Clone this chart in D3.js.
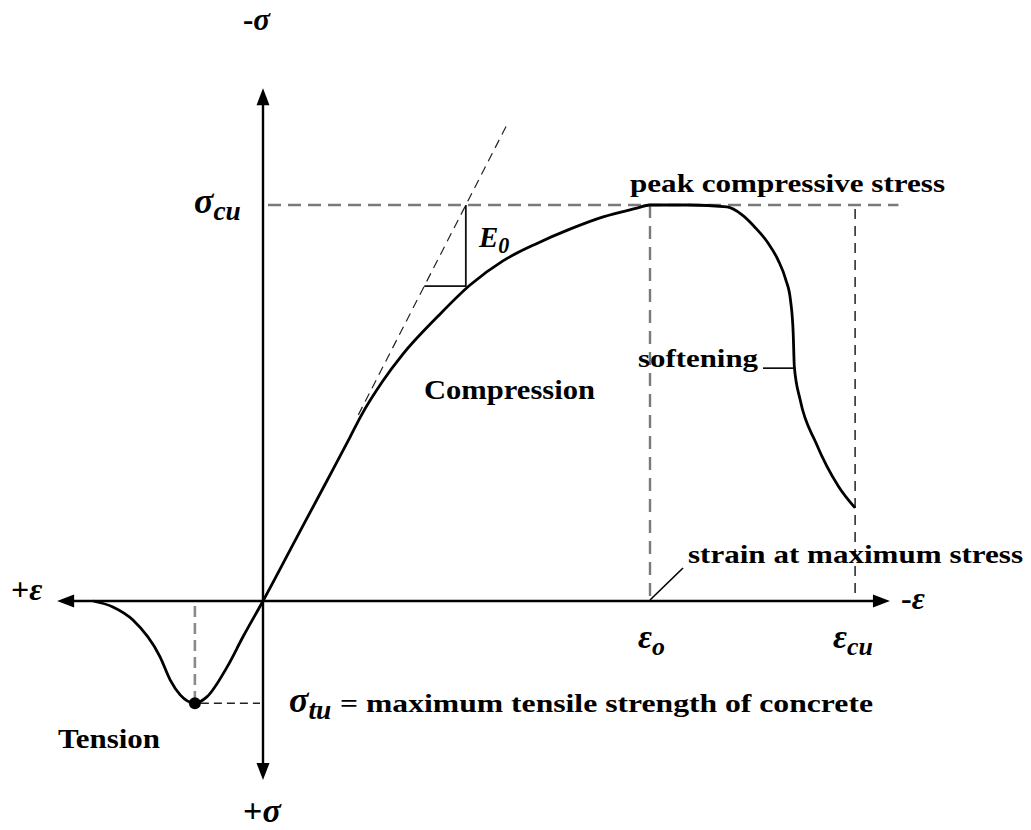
<!DOCTYPE html>
<html>
<head>
<meta charset="utf-8">
<script src="https://cdn.jsdelivr.net/npm/d3@7"></script>
<style>
  body { margin: 0; background: #fff; }
  text { font-family: "Liberation Serif", "Times New Roman", Tinos, serif; font-weight: bold; fill: #000; }
  .greek { font-style: italic; }
</style>
</head>
<body>
<script>
// strain / stress normalised: eps / eps_o , sigma / sigma_cu (compression positive)
var strain = [-0.439, -0.388, -0.336, -0.266, -0.24, -0.214, -0.176, -0.145, -0.093, -0.052, 0,
    0.088, 0.165, 0.225, 0.253, 0.31, 0.362, 0.45, 0.535, 0.62, 0.708, 0.793, 0.879, 0.966, 1.0,
    1.1, 1.199, 1.238, 1.271, 1.305, 1.331, 1.351, 1.363, 1.37, 1.373, 1.388, 1.429, 1.488, 1.53];
var stress = [0, -0.015, -0.048, -0.141, -0.199, -0.237, -0.258, -0.242, -0.167, -0.091, 0,
    0.162, 0.303, 0.414, 0.467, 0.556, 0.624, 0.717, 0.798, 0.859, 0.903, 0.939, 0.97, 0.992, 1.0,
    1.0, 0.995, 0.975, 0.944, 0.904, 0.861, 0.811, 0.76, 0.677, 0.591, 0.508, 0.399, 0.288, 0.235];

var strainTicks = [1, 1.53];          // eps_o, eps_cu
var stressPeak = 1;                   // sigma_cu
var tensionPeak = [-0.176, -0.258];   // (eps, sigma_tu)
var tangentSlope = 1.908;             // E0
var xExtent = [-0.532, 1.62];
var yExtent = [-0.452, 1.295];

var width = 1031, height = 830;
var svg = d3.select("body").append("svg")
    .attr("width", width)
    .attr("height", height);

var x = d3.scaleLinear().domain([0, 1]).range([263, 650]);
var y = d3.scaleLinear().domain([0, 1]).range([601, 205]);

function seg(g, x1, y1, x2, y2, stroke, sw, dash) {
    var l = g.append("line")
        .attr("x1", x1).attr("y1", y1)
        .attr("x2", x2).attr("y2", y2)
        .attr("stroke", stroke)
        .attr("stroke-width", sw);
    if (dash) l.attr("stroke-dasharray", dash);
    return l;
}

// arrow head, tip at (tx, ty), pointing along angle a (radians)
function arrowHead(g, tx, ty, a) {
    var len = 17, half = 6.5;
    var bx = tx - len * Math.cos(a), by = ty - len * Math.sin(a);
    var px = -Math.sin(a) * half, py = Math.cos(a) * half;
    g.append("path")
        .attr("d", "M" + tx + "," + ty + "L" + (bx + px) + "," + (by + py) + "L" + (bx - px) + "," + (by - py) + "Z")
        .attr("fill", "#000");
}

var guides = svg.append("g").attr("class", "guides");
var axes = svg.append("g").attr("class", "axes");
var marks = svg.append("g").attr("class", "marks");
var labels = svg.append("g").attr("class", "labels");

// dashed guides
seg(guides, x(0) + 5, y(stressPeak), x(1.642), y(stressPeak), "#7a7a7a", 2.5, "13,7");
seg(guides, x(strainTicks[0]), y(stressPeak), x(strainTicks[0]), y(0), "#7a7a7a", 2.4, "13,8");
seg(guides, x(strainTicks[1]), y(0.99), x(strainTicks[1]), y(0), "#222", 1.5, "10,7");
seg(guides, x(tensionPeak[0]), y(0) + 5, x(tensionPeak[0]), y(tensionPeak[1]), "#8a8a8a", 2.6, "11,6");
seg(guides, x(tensionPeak[0]) + 6, y(tensionPeak[1]), x(0) - 3, y(tensionPeak[1]), "#222", 1.5, "8,5");

// tangent E0
var tanLo = 0.47, tanHi = 1.202;
seg(guides, x(tanLo / tangentSlope), y(tanLo), x(tanHi / tangentSlope), y(tanHi), "#222", 1.2, "9,6");
var triLo = 0.795;
marks.append("path")
    .attr("d", "M" + x(triLo / tangentSlope) + "," + y(triLo) +
        "H" + x(stressPeak / tangentSlope) + "V" + y(stressPeak))
    .attr("fill", "none")
    .attr("stroke", "#111")
    .attr("stroke-width", 1.8);

// axes
seg(axes, x(xExtent[0]) + 8, y(0), x(xExtent[1]) - 8, y(0), "#000", 2.6);
seg(axes, x(0), y(yExtent[1]) + 8, x(0), y(yExtent[0]) - 8, "#000", 2.4);
arrowHead(axes, x(xExtent[0]), y(0), Math.PI);
arrowHead(axes, x(xExtent[1]), y(0), 0);
arrowHead(axes, x(0), y(yExtent[1]), -Math.PI / 2);
arrowHead(axes, x(0), y(yExtent[0]), Math.PI / 2);

// stress-strain curve
var pts = strain.map(function (d, i) { return [d, stress[i]]; });
marks.append("path")
    .datum(pts)
    .attr("d", d3.line()
        .x(function (d) { return x(d[0]); })
        .y(function (d) { return y(d[1]); })
        .curve(d3.curveMonotoneX))
    .attr("fill", "none")
    .attr("stroke", "#000")
    .attr("stroke-width", 2.8)
    .attr("stroke-linejoin", "round");

marks.append("circle")
    .attr("cx", x(tensionPeak[0]))
    .attr("cy", y(tensionPeak[1]))
    .attr("r", 6)
    .attr("fill", "#000");

// leaders
seg(marks, x(1.292), y(0.588), x(1.37), y(0.588), "#000", 1.6);
seg(marks, x(strainTicks[0]), y(0) - 1, x(strainTicks[0]) + 33, y(0) - 33, "#000", 1.6);

// text helpers
function label(px, py, str, size, len) {
    var t = labels.append("text")
        .attr("x", px).attr("y", py)
        .style("font-size", size + "px")
        .text(str);
    if (len) t.attr("textLength", len).attr("lengthAdjust", "spacingAndGlyphs");
    return t;
}
function greek(px, py, main, sub, size, pre) {
    var t = labels.append("text")
        .attr("x", px).attr("y", py)
        .style("font-size", size + "px");
    if (pre) t.append("tspan").text(pre);
    t.append("tspan").attr("class", "greek").text(main);
    if (sub) t.append("tspan").attr("class", "greek")
        .attr("dy", size * 0.2)
        .style("font-size", (size * 0.76) + "px")
        .text(sub);
    return t;
}

label(630, 192, "peak compressive stress", 26, 315);
label(638, 367, "softening", 26, 120);
label(424, 399, "Compression", 27, 171);
label(688, 563, "strain at maximum stress", 26, 335);
label(58, 748, "Tension", 27, 102);
label(340, 712, "= maximum tensile strength of concrete", 26, 533);

greek(243, 30, "σ", null, 31, "-");
greek(243, 822, "σ", null, 34, "+");
greek(194, 213, "σ", "cu", 36);
greek(289, 712, "σ", "tu", 36);
greek(479, 247, "E", "0", 29);
greek(11, 600, "ε", null, 32, "+");
greek(901, 609, "ε", null, 32, "-");
greek(x(strainTicks[0]) - 12, 648, "ε", "o", 34);
greek(x(strainTicks[1]) - 22, 648, "ε", "cu", 34);
</script>
</body>
</html>
